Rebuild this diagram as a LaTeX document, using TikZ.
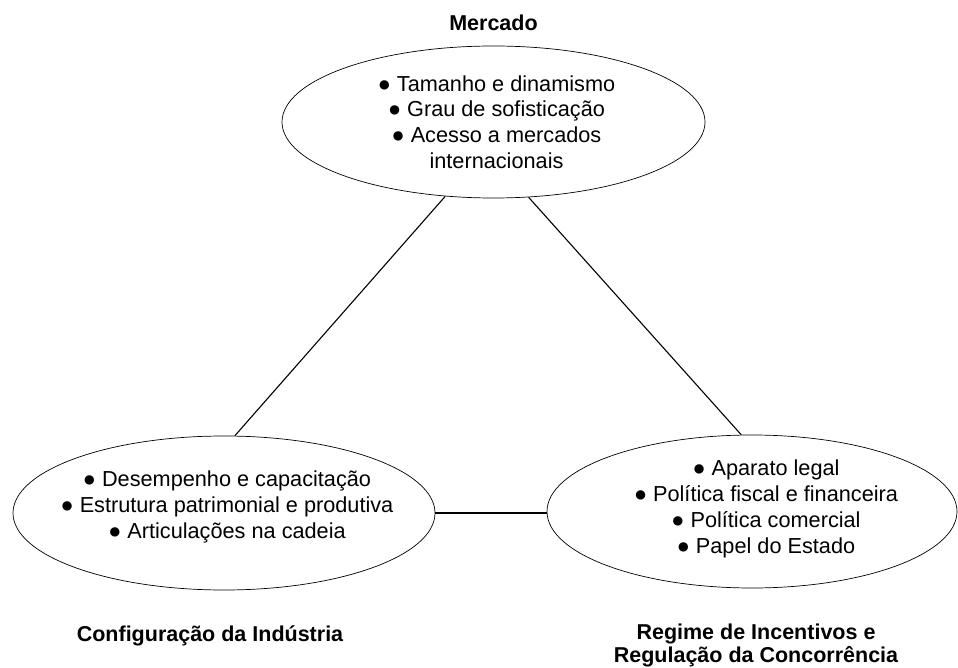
\documentclass[tikz,border=0pt]{standalone}
\usepackage{fontspec}
\setmainfont{Liberation Sans}
\usetikzlibrary{shapes.geometric,positioning}

\begin{document}
\begin{tikzpicture}[x=1pt,y=-1pt,
  blob/.style={draw,ellipse,line width=0.7pt,inner sep=0pt},
  items/.style={align=center,inner sep=0pt,font=\fontsize{21.7}{25.8}\selectfont},
  caption/.style={align=center,inner sep=0pt,font=\bfseries\fontsize{21.5}{23}\selectfont},
  link/.style={line width=1.1pt}]
  \useasboundingbox (0,0) rectangle (958,668);
  % the three ellipses
  \node[blob,minimum width=423pt,minimum height=152pt] (mkt) at (493.5,122) {};
  \node[blob,minimum width=422pt,minimum height=154pt] (ind) at (224,513) {};
  \node[blob,minimum width=410pt,minimum height=153pt] (reg) at (752,511.5) {};
  % bullet lists
  \node[items] (mkt-txt) at ([xshift=3pt]mkt.center) {● Tamanho e dinamismo\\● Grau de sofisticação\\● Acesso a mercados\\internacionais};
  \node[items] (ind-txt) at ([xshift=3pt,yshift=6pt]ind.center) {● Desempenho e capacitação\\● Estrutura patrimonial e produtiva\\● Articulações na cadeia};
  \node[items] (reg-txt) at ([xshift=14pt,yshift=2.5pt]reg.center) {● Aparato legal\\● Política fiscal e financeira\\● Política comercial\\● Papel do Estado};
  % titles
  \node[caption,above=15pt of mkt] (mkt-title) {Mercado};
  \node[caption,below=35pt of ind,xshift=-14pt] (ind-title) {Configuração da Indústria};
  \node[caption,below=35pt of reg,xshift=4pt] (reg-title) {Regime de Incentivos e\\Regulação da Concorrência};
  % connectors
  \draw[link] (mkt.237.5) -- (ind.82);
  \draw[link] (mkt.295) -- (reg.98);
  \draw[link] (ind.east) -- (ind.east -| reg.west);
\end{tikzpicture}
\end{document}
